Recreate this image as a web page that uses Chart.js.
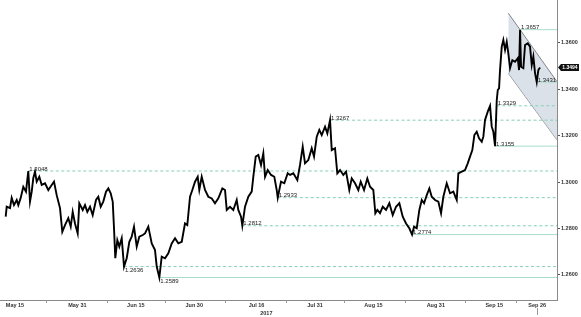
<!DOCTYPE html>
<html>
<head>
<meta charset="utf-8">
<script src="https://cdn.jsdelivr.net/npm/chart.js@4.4.1/dist/chart.umd.min.js"></script>
<style>
  html, body { margin: 0; padding: 0; background: #fff; }
  #wrap { width: 581px; height: 317px; }
</style>
</head>
<body>
<div id="wrap"><canvas id="fx"></canvas></div>
<script>
// datos: dias desde el 15 de mayo de 2017 y cotizacion
const days = [
  -2.39, -2.13, -1.28, -0.85, -0.26, 0.44, 0.85, 1.46, 2.13, 2.82,
  3.41, 3.85, 4.29, 4.70, 5.13, 5.57, 6.24, 6.85, 7.70, 8.55,
  9.42, 10.01, 10.70, 11.55, 12.14, 12.83, 13.68, 14.30, 14.81, 15.40,
  16.09, 16.50, 17.38, 17.97, 18.56, 19.25, 19.94, 20.79, 21.38, 22.00,
  22.66, 23.36, 23.95, 24.56, 25.08, 25.41, 25.74, 26.26, 26.77, 27.39,
  27.98, 28.67, 29.34, 29.95, 30.54, 31.24, 31.90, 32.78, 33.37, 34.21,
  35.09, 35.93, 36.37, 37.04, 37.65, 38.50, 39.35, 40.22, 41.07, 41.91,
  42.79, 43.63, 44.22, 44.92, 45.51, 46.20, 46.89, 47.30, 47.92, 48.77,
  49.61, 50.49, 51.33, 52.18, 53.21, 53.90, 54.34, 55.18, 56.03, 56.90,
  57.31, 58.01, 58.34, 59.03, 59.88, 60.75, 61.16, 61.78, 62.45, 63.14,
  63.73, 64.17, 64.86, 65.71, 66.55, 67.17, 67.43, 68.27, 69.12, 69.99,
  70.58, 71.43, 72.46, 73.15, 73.84, 74.43, 75.28, 76.15, 76.74, 77.44,
  78.10, 78.72, 79.57, 80.16, 80.85, 81.29, 82.13, 82.72, 83.42, 84.27,
  84.96, 85.80, 86.42, 87.27, 88.11, 88.73, 89.58, 90.42, 91.12, 91.96,
  92.48, 92.99, 93.68, 94.38, 95.22, 96.07, 96.94, 97.79, 98.64, 99.51,
  100.36, 101.20, 101.90, 102.41, 103.10, 103.77, 104.39, 104.98, 105.67, 106.34,
  106.95, 107.80, 108.65, 109.34, 109.93, 110.80, 111.65, 112.50, 113.37, 113.78,
  114.65, 115.50, 116.19, 116.78, 117.37, 117.89, 118.50, 119.09, 119.79, 120.20,
  120.63, 121.33, 121.92, 122.35, 122.77, 123.20, 123.64, 123.90, 124.23, 124.48,
  124.92, 125.33, 125.77, 126.20, 126.61, 127.05, 127.64, 128.33, 129.03, 129.36,
  129.62, 129.87, 130.46, 130.90, 131.59, 132.18, 132.62, 133.03, 133.47, 133.90,
  134.31, 134.75
];
const prices = [
  1.2851, 1.2894, 1.2888, 1.2932, 1.2901, 1.2923, 1.2901, 1.2932, 1.2980, 1.2959,
  1.3048, 1.2916, 1.2959, 1.3018, 1.3045, 1.3002, 1.3023, 1.2988, 1.2995, 1.2966,
  1.2988, 1.3002, 1.2944, 1.2888, 1.2786, 1.2815, 1.2845, 1.2808, 1.2872, 1.2822,
  1.2779, 1.2909, 1.2880, 1.2901, 1.2872, 1.2894, 1.2858, 1.2923, 1.2937, 1.2894,
  1.2916, 1.2959, 1.2973, 1.2952, 1.2916, 1.2801, 1.2672, 1.2750, 1.2722, 1.2758,
  1.2636, 1.2672, 1.2743, 1.2765, 1.2808, 1.2722, 1.2765, 1.2772, 1.2779, 1.2808,
  1.2736, 1.2707, 1.2636, 1.2589, 1.2679, 1.2672, 1.2693, 1.2736, 1.2758, 1.2736,
  1.2743, 1.2822, 1.2815, 1.2937, 1.2966, 1.3002, 1.3023, 1.2966, 1.3023, 1.2966,
  1.2937, 1.2930, 1.2909, 1.2930, 1.2973, 1.2966, 1.2880, 1.2894, 1.2880, 1.2923,
  1.2880, 1.2851, 1.2812, 1.2894, 1.2937, 1.2959, 1.3023, 1.3110, 1.3117, 1.3074,
  1.3124, 1.3023, 1.3052, 1.3031, 1.3023, 1.2966, 1.2933, 1.3002, 1.2995, 1.3038,
  1.3031, 1.3038, 1.3009, 1.3074, 1.3153, 1.3081, 1.3095, 1.3146, 1.3110, 1.3196,
  1.3225, 1.3203, 1.3239, 1.3210, 1.3267, 1.3138, 1.3146, 1.3038, 1.3052, 1.3031,
  1.3045, 1.2966, 1.3016, 1.2995, 1.2966, 1.3002, 1.2966, 1.3016, 1.2980, 1.2966,
  1.2866, 1.2880, 1.2866, 1.2894, 1.2880, 1.2909, 1.2858, 1.2894, 1.2909, 1.2851,
  1.2822, 1.2801, 1.2774, 1.2808, 1.2801, 1.2880, 1.2923, 1.2909, 1.2944, 1.2973,
  1.2937, 1.2923, 1.2916, 1.2866, 1.2937, 1.2995, 1.2952, 1.2959, 1.2923, 1.3038,
  1.3045, 1.3052, 1.3081, 1.3110, 1.3138, 1.3203, 1.3217, 1.3189, 1.3174, 1.3196,
  1.3268, 1.3304, 1.3329, 1.3239, 1.3217, 1.3155, 1.3354, 1.3397, 1.3404, 1.3483,
  1.3584, 1.3613, 1.3570, 1.3605, 1.3555, 1.3491, 1.3526, 1.3519, 1.3534, 1.3483,
  1.3657, 1.3497, 1.3491, 1.3591, 1.3598, 1.3584, 1.3505, 1.3541, 1.3469, 1.3431,
  1.3483, 1.3494
];
const lastPrice = 1.3494;

// niveles marcados (maximos y minimos) y dia donde empieza cada linea
const levelValues = [1.3048, 1.2636, 1.2589, 1.2812, 1.2933, 1.3267, 1.2774, 1.3329, 1.3155, 1.3657, 1.3431];
const levelStart  = [3.41, 27.98, 37.04, 58.34, 67.43, 80.85, 101.90, 123.64, 123.20, 129.62, 133.90];
const solidLevels = [1.2589, 1.2774, 1.3155, 1.3657, 1.3431];
const labelsBelow = [1.2636, 1.2589];

// canal bajista
const channelDays  = [126.61, 139.1];
const channelUpper = [1.3728, 1.3433];
const channelLower = [1.3469, 1.3182];

// ejes
const xTickDays   = [0, 16, 31, 46, 62, 77, 92, 108, 123, 134];
const xTickLabels = ['May 15', 'May 31', 'Jun 15', 'Jun 30', 'Jul 16', 'Jul 31', 'Aug 15', 'Aug 31', 'Sep 15', 'Sep 26'];
const yTicks = [1.26, 1.28, 1.30, 1.32, 1.34, 1.36];
const xMin = -3.85, xMax = 139.1;
const yMin = 1.2492, yMax = 1.3785;

const priceData = days.map((d, i) => ({ x: d, y: prices[i] }));

const levelSets = levelValues.map((v, i) => {
    const solid = solidLevels.includes(v);
    return {
        data: [{ x: levelStart[i], y: v }, { x: xMax, y: v }],
        borderColor: solid ? '#a9dccb' : '#86cfb6',
        borderWidth: 1,
        borderDash: solid ? [] : [3, 2.5],
        pointRadius: 0,
        order: 2
    };
});

const channelSets = [
    {
        data: channelDays.map((d, i) => ({ x: d, y: channelUpper[i] })),
        borderColor: '#7f8588',
        borderWidth: 1,
        backgroundColor: 'rgba(210, 218, 228, 0.8)',
        fill: '+1',
        pointRadius: 0,
        order: 3
    },
    {
        data: channelDays.map((d, i) => ({ x: d, y: channelLower[i] })),
        borderColor: '#7f8588',
        borderWidth: 1,
        fill: false,
        pointRadius: 0,
        order: 3
    }
];

const decoraciones = {
    id: 'decoraciones',
    afterDatasetsDraw(chart) {
        const { ctx, chartArea } = chart;
        const x = chart.scales.x, y = chart.scales.y;
        ctx.save();

        // etiquetas de los niveles
        ctx.font = '6px "Liberation Sans"';
        ctx.fillStyle = '#222';
        levelValues.forEach((v, i) => {
            const px = x.getPixelForValue(levelStart[i]) + 1;
            const py = y.getPixelForValue(v);
            const below = labelsBelow.includes(v);
            ctx.textBaseline = below ? 'top' : 'bottom';
            ctx.fillText(v.toFixed(4), px, py + 1);
        });

        // marcas menores del eje x
        ctx.strokeStyle = '#999';
        ctx.lineWidth = 1;
        for (let i = 0; i < xTickDays.length - 1; i++) {
            const px = Math.round(x.getPixelForValue((xTickDays[i] + xTickDays[i + 1]) / 2)) + 0.5;
            ctx.beginPath();
            ctx.moveTo(px, chartArea.bottom);
            ctx.lineTo(px, chartArea.bottom + 3);
            ctx.stroke();
        }
        // linea de la fecha actual
        const hoy = Math.round(x.getPixelForValue(xTickDays[xTickDays.length - 1])) + 0.5;
        ctx.beginPath();
        ctx.moveTo(hoy, chartArea.bottom + 8);
        ctx.lineTo(hoy, chartArea.bottom + 15);
        ctx.stroke();

        // año
        ctx.font = 'bold 5.5px "Liberation Sans"';
        ctx.fillStyle = '#333';
        ctx.textAlign = 'center';
        ctx.textBaseline = 'middle';
        ctx.fillText('2017', x.getPixelForValue(64.5), chartArea.bottom + 13);

        // recuadro del ultimo precio
        const py = y.getPixelForValue(lastPrice);
        const left = chartArea.right + 1;
        ctx.fillStyle = '#111';
        ctx.beginPath();
        ctx.moveTo(left, py);
        ctx.lineTo(left + 3, py - 3.5);
        ctx.lineTo(left + 21, py - 3.5);
        ctx.lineTo(left + 21, py + 3.5);
        ctx.lineTo(left + 3, py + 3.5);
        ctx.closePath();
        ctx.fill();
        ctx.fillStyle = '#fff';
        ctx.font = 'bold 5px "Liberation Sans"';
        ctx.fillText(lastPrice.toFixed(4), left + 12, py + 0.3);

        ctx.restore();
    }
};

function crearGrafico(canvasId) {
    const canvas = document.getElementById(canvasId);
    if (!canvas) {
        console.error('No se encontro el canvas', canvasId);
        return;
    }
    new Chart(canvas, {
        type: 'line',
        data: {
            datasets: [
                {
                    data: priceData,
                    borderColor: '#000',
                    borderWidth: 1.9,
                    pointRadius: 0,
                    tension: 0,
                    order: 0
                },
                ...levelSets,
                ...channelSets
            ]
        },
        options: {
            responsive: true,
            maintainAspectRatio: false,
            animation: false,
            layout: { padding: 0 },
            plugins: { legend: { display: false }, tooltip: { enabled: false } },
            scales: {
                x: {
                    type: 'linear',
                    min: xMin,
                    max: xMax,
                    afterBuildTicks: (s) => { s.ticks = xTickDays.map(v => ({ value: v })); },
                    afterFit: (s) => { s.height = 17; s.paddingLeft = 0; s.paddingRight = 0; },
                    grid: { display: true, drawOnChartArea: false, drawTicks: false, color: 'transparent' },
                    border: { display: true, color: '#8a8a8a', width: 1 },
                    ticks: {
                        autoSkip: false,
                        maxRotation: 0,
                        padding: 2,
                        color: '#333',
                        font: { family: 'Liberation Sans', size: 5.5, weight: 'bold' },
                        callback: (v) => xTickLabels[xTickDays.indexOf(v)]
                    }
                },
                y: {
                    type: 'linear',
                    position: 'right',
                    min: yMin,
                    max: yMax,
                    afterBuildTicks: (s) => { s.ticks = yTicks.map(v => ({ value: v })); },
                    afterFit: (s) => { s.width = 24; s.paddingTop = 0; s.paddingBottom = 0; },
                    grid: { drawOnChartArea: false, tickLength: 3, color: '#555' },
                    border: { display: true, color: '#8a8a8a', width: 1 },
                    ticks: {
                        padding: 1,
                        color: '#333',
                        font: { family: 'Liberation Sans', size: 5.5, weight: 'bold' },
                        callback: (v) => v.toFixed(4)
                    }
                }
            }
        },
        plugins: [decoraciones]
    });
}

document.addEventListener('DOMContentLoaded', () => {
    crearGrafico('fx');
});
</script>
</body>
</html>
